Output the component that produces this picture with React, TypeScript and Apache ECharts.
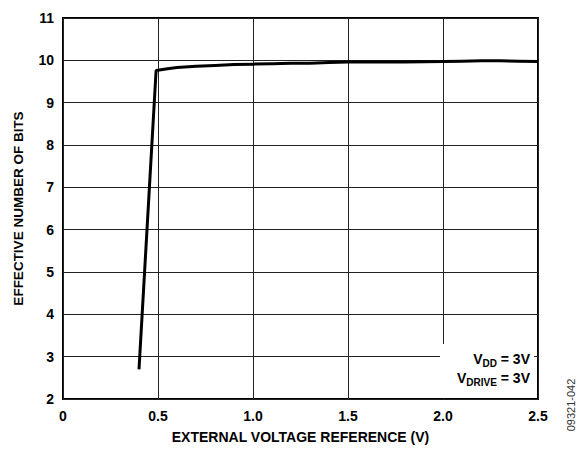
import React, { useEffect, useRef } from "react";
import * as echarts from "echarts";

const xValues = [0.4, 0.49, 0.55, 0.6, 0.7, 0.8, 0.9, 1.0, 1.1, 1.2, 1.3, 1.4, 1.5, 1.6, 1.8, 2.0, 2.1, 2.2, 2.3, 2.4, 2.5];
const enobValues = [2.7, 9.76, 9.8, 9.83, 9.86, 9.88, 9.9, 9.91, 9.92, 9.93, 9.93, 9.95, 9.96, 9.96, 9.96, 9.97, 9.98, 9.99, 9.99, 9.98, 9.97];
const xTicks = { min: 0, max: 2.5, interval: 0.5 };
const yTicks = { min: 2, max: 11, interval: 1 };
const xAxisTitle = "EXTERNAL VOLTAGE REFERENCE (V)";
const yAxisTitle = "EFFECTIVE NUMBER OF BITS";
const figureCode = "09321-042";

const FONT = "Liberation Sans, Arial, sans-serif";

export default function App() {
  const ref = useRef<HTMLDivElement>(null);
  useEffect(() => {
    if (!ref.current) return;
    const chart = echarts.init(ref.current, null, { renderer: "svg" });
    const data = xValues.map((x, i) => [x, enobValues[i]]);
    chart.setOption({
      animation: false,
      backgroundColor: "#fff",
      textStyle: { fontFamily: FONT },
      grid: {
        left: 63,
        top: 18,
        right: 40,
        bottom: 53,
        show: true,
        borderColor: "#000",
        borderWidth: 2,
        backgroundColor: "transparent",
      },
      xAxis: {
        type: "value",
        min: xTicks.min,
        max: xTicks.max,
        interval: xTicks.interval,
        name: xAxisTitle,
        nameLocation: "middle",
        nameGap: 31,
        nameTextStyle: { fontFamily: FONT, fontWeight: "bold", fontSize: 14, color: "#000" },
        axisLine: { show: false },
        axisTick: { show: false },
        axisLabel: {
          margin: 10,
          fontFamily: FONT,
          fontWeight: "bold",
          fontSize: 14,
          color: "#000",
          formatter: (v: number) => (v === 0 ? "0" : v.toFixed(1)),
        },
        splitLine: { show: true, lineStyle: { color: "#222", width: 1 } },
      },
      yAxis: {
        type: "value",
        min: yTicks.min,
        max: yTicks.max,
        interval: yTicks.interval,
        name: yAxisTitle,
        nameLocation: "middle",
        nameGap: 38,
        nameTextStyle: { fontFamily: FONT, fontWeight: "bold", fontSize: 13.5, color: "#000" },
        axisLine: { show: false },
        axisTick: { show: false },
        axisLabel: {
          margin: 9,
          fontFamily: FONT,
          fontWeight: "bold",
          fontSize: 14,
          color: "#000",
        },
        splitLine: { show: true, lineStyle: { color: "#222", width: 1 } },
      },
      series: [
        {
          type: "line",
          data,
          showSymbol: false,
          symbol: "none",
          smooth: false,
          lineStyle: { color: "#000", width: 3 },
          z: 5,
        },
      ],
      graphic: [
        {
          type: "rect",
          shape: { x: 440, y: 344, width: 94, height: 54 },
          style: { fill: "#fff" },
          z: 1,
        },
        {
          type: "text",
          x: 530,
          y: 349.5,
          z: 2,
          style: {
            text: "{a|V}{b|DD}{a| = 3V}\n{a|V}{b|DRIVE}{a| = 3V}",
            align: "right",
            verticalAlign: "top",
            fontFamily: FONT,
            rich: {
              a: { fontFamily: FONT, fontWeight: "bold", fontSize: 14, lineHeight: 19, color: "#000", verticalAlign: "middle" },
              b: { fontFamily: FONT, fontWeight: "bold", fontSize: 10, lineHeight: 19, color: "#000", verticalAlign: "middle", padding: [8, 0, 0, 0] },
            },
          },
        },
        {
          type: "text",
          x: 571,
          y: 405,
          rotation: Math.PI / 2,
          style: {
            text: figureCode,
            align: "center",
            verticalAlign: "middle",
            fontFamily: FONT,
            fontSize: 11,
            fill: "#333",
          },
        },
      ],
    });
    return () => chart.dispose();
  }, []);
  return <div ref={ref} style={{ width: 578, height: 452, position: "absolute", left: 0, top: 0 }} />;
}
